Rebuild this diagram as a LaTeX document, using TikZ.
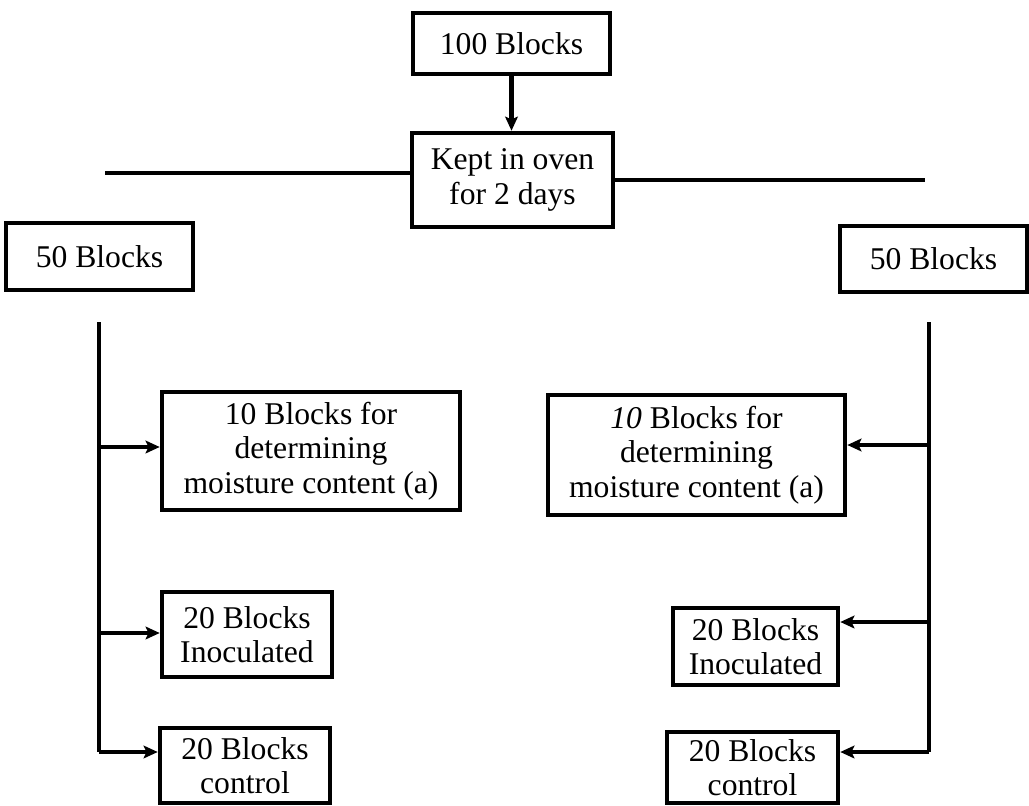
\documentclass[tikz,border=0pt]{standalone}
\usepackage{fontspec}
\setmainfont{Liberation Serif}
\usetikzlibrary{arrows.meta}
\begin{document}
\begin{tikzpicture}[x=0.025cm,y=-0.025cm,
  box/.style={draw=black,line width=3.2pt,rectangle,inner sep=0pt,align=center,
    font=\fontsize{22.5}{24.5}\selectfont},
  conn/.style={line width=2.9pt},
  arr/.style={line width=2.9pt,-{Stealth[length=10pt,width=9pt,inset=2pt]}}]
\useasboundingbox (0,0) rectangle (1029,806);
\node[box,minimum width=4.925cm,minimum height=1.525cm] (b100) at (511.5,43.5) {100 Blocks};
\node[box,minimum width=5.025cm,minimum height=2.35cm] (kept) at (512.5,180) {Kept in oven\\for 2 days};
\node[box,minimum width=4.675cm,minimum height=1.675cm] (L50) at (99.5,256.5) {50 Blocks};
\node[box,minimum width=4.675cm,minimum height=1.65cm] (R50) at (933.5,259) {50 Blocks};
\node[box,minimum width=7.45cm,minimum height=2.95cm] (Lm) at (311,451) {10 Blocks for\\determining\\moisture content (a)};
\node[box,minimum width=7.425cm,minimum height=3.0cm] (Rm) at (696.5,455) {\textit{10} Blocks for\\determining\\moisture content (a)};
\node[box,minimum width=4.25cm,minimum height=2.125cm] (Li) at (247,634.5) {20 Blocks\\Inoculated};
\node[box,minimum width=4.125cm,minimum height=1.925cm] (Ri) at (755.5,646.5) {20 Blocks\\Inoculated};
\node[box,minimum width=4.25cm,minimum height=1.875cm] (Lc) at (245,765.5) {20 Blocks\\control};
\node[box,minimum width=4.275cm,minimum height=1.775cm] (Rc) at (752.5,767.5) {20 Blocks\\control};
% top arrow
\draw[arr] (b100.south) -- (b100.south |- kept.north);
% horizontal lines
\coordinate (hl) at (105,173);
\coordinate (hr) at (925,180);
\draw[conn] (hl) -- (hl -| kept.west);
\draw[conn] (kept.east |- hr) -- (hr);
% left branch
\coordinate (lt) at (99,322);
\coordinate (lb) at (99,752);
\coordinate (la1) at (99,447);
\coordinate (la2) at (99,633);
\draw[conn] (lt) -- (lb);
\draw[arr] (la1) -- (la1 -| Lm.west);
\draw[arr] (la2) -- (la2 -| Li.west);
\draw[arr] (lb) -- (lb -| Lc.west);
% right branch
\coordinate (rt) at (929,322);
\coordinate (rb) at (929,752);
\coordinate (ra1) at (929,445);
\coordinate (ra2) at (929,622);
\draw[conn] (rt) -- (rb);
\draw[arr] (ra1) -- (ra1 -| Rm.east);
\draw[arr] (ra2) -- (ra2 -| Ri.east);
\draw[arr] (rb) -- (rb -| Rc.east);
\end{tikzpicture}
\end{document}
